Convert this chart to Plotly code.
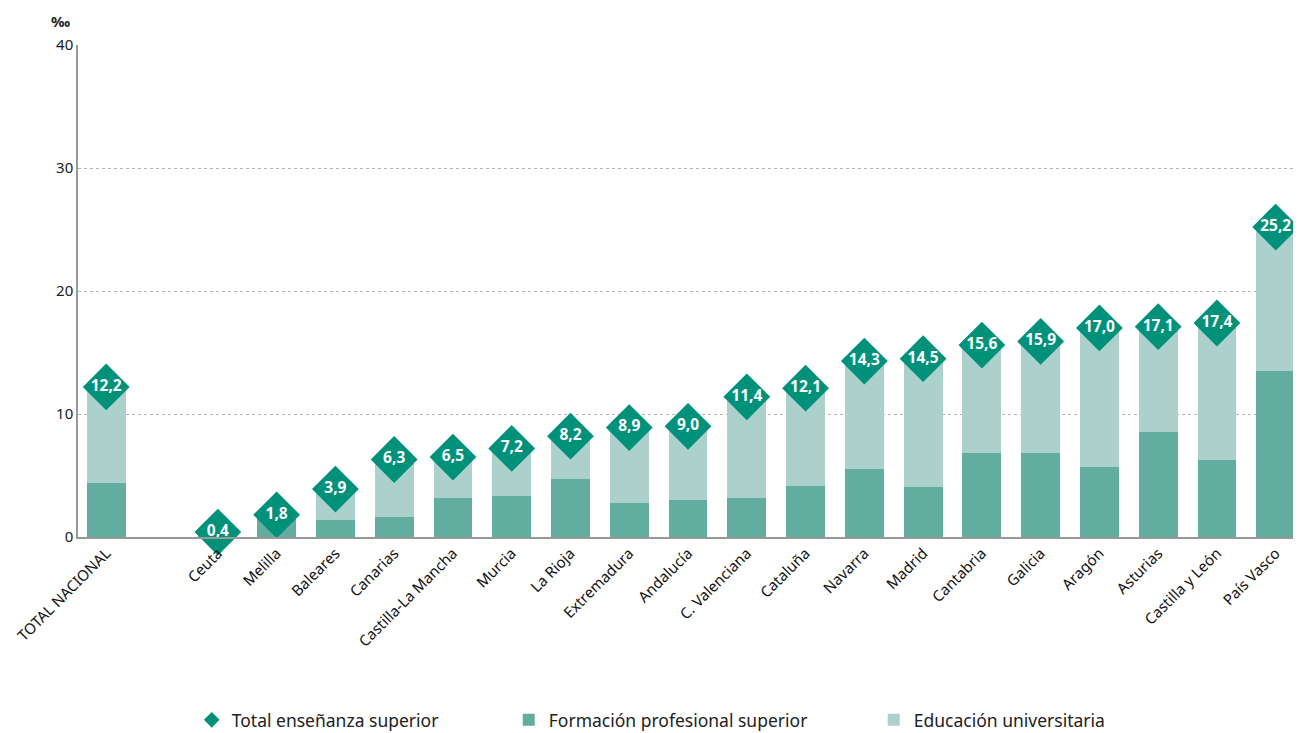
import plotly.graph_objects as go

regions = ["TOTAL NACIONAL", "Ceuta", "Melilla", "Baleares", "Canarias", "Castilla-La Mancha",
           "Murcia", "La Rioja", "Extremadura", "Andalucía", "C. Valenciana", "Cataluña",
           "Navarra", "Madrid", "Cantabria", "Galicia", "Aragón", "Asturias",
           "Castilla y León", "País Vasco"]
total = [12.2, 0.4, 1.8, 3.9, 6.3, 6.5, 7.2, 8.2, 8.9, 9.0, 11.4, 12.1,
         14.3, 14.5, 15.6, 15.9, 17.0, 17.1, 17.4, 25.2]
fp = [4.4, 0.3, 1.7, 1.4, 1.6, 3.2, 3.3, 4.75, 2.8, 3.0, 3.15, 4.15,
      5.5, 4.1, 6.85, 6.85, 5.7, 8.55, 6.25, 13.5]
univ = [round(t - f, 2) for t, f in zip(total, fp)]

# x positions: gap between the national total and the regions
xpos = [0.0] + [1.9 + i for i in range(len(regions) - 1)]

C_DIAMOND = "#00917b"
C_FP = "#63aca0"
C_UNI = "#acd0cc"
FONT = "Noto Sans"

fig = go.Figure()
fig.add_trace(go.Bar(x=xpos, y=fp, name="Formación profesional superior",
                     marker=dict(color=C_FP, line=dict(width=0)), width=0.66,
                     legendrank=2, legendwidth=320, hoverinfo="skip"))
fig.add_trace(go.Bar(x=xpos, y=univ, name="Educación universitaria",
                     marker=dict(color=C_UNI, line=dict(width=0)), width=0.66,
                     legendrank=3, hoverinfo="skip"))
fig.add_trace(go.Scatter(x=xpos, y=total, name="Total enseñanza superior",
                         mode="markers+text", marker=dict(symbol="diamond", size=36, color=C_DIAMOND),
                         texttemplate="%{y:.1f}", textposition="middle center",
                         textfont=dict(family="Open Sans", size=15.5, color="white", weight="bold"),
                         cliponaxis=False, legendrank=1, legendwidth=272))

fig.update_layout(
    barmode="stack",
    width=1293, height=725,
    margin=dict(l=70, r=0, t=37, b=196, autoexpand=False),
    paper_bgcolor="white", plot_bgcolor="white",
    separators=",.",
    font=dict(family=FONT, size=14, color="#222"),
    showlegend=True,
    legend=dict(orientation="h", x=0.093, xanchor="left",
                yref="container", y=0.018, yanchor="middle",
                font=dict(family=FONT, size=17.5, color="#222"),
                itemsizing="constant", traceorder="normal"),
    xaxis=dict(range=[-0.48, 20.33], tickvals=xpos, ticktext=regions, tickangle=-45,
               showgrid=False, showline=True, linecolor="#999", linewidth=1.5, automargin=False,
               ticks="", tickfont=dict(family=FONT, size=15, color="#111"), zeroline=False),
    yaxis=dict(range=[0, 40], tickvals=[0, 10, 20, 30, 40], showgrid=True,
               gridcolor="#b5b5b5", griddash="dot", gridwidth=1, automargin=False,
               showline=True, linecolor="#999", linewidth=1.5, ticks="",
               tickfont=dict(family=FONT, size=15, color="#222"), zeroline=False),
    annotations=[dict(text="<b>‰</b>", xref="paper", yref="paper", x=-0.005, y=1.0,
                      yshift=12, xanchor="right", yanchor="bottom", showarrow=False,
                      font=dict(family=FONT, size=15, color="#222"))],
)

fig.write_html("out.html")
